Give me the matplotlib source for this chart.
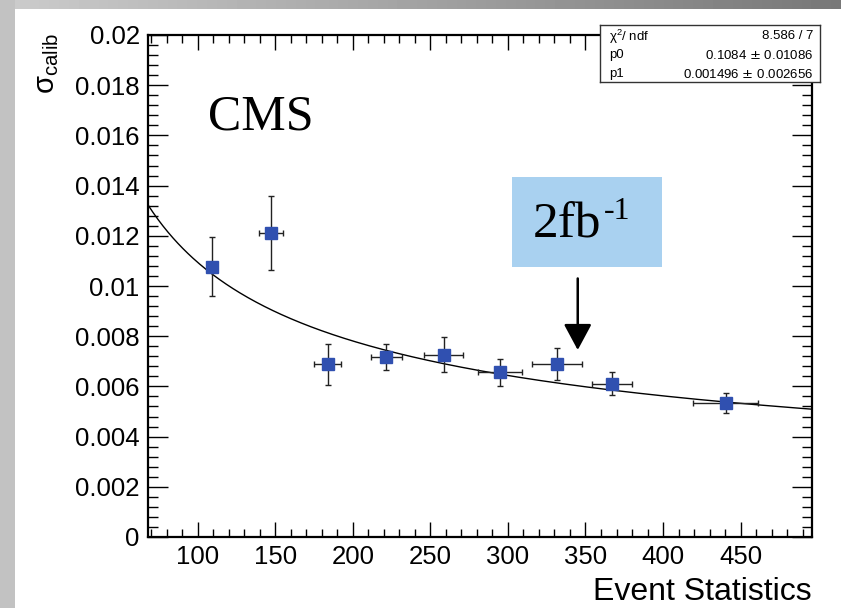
import numpy as np
import matplotlib
matplotlib.use("Agg")
import matplotlib.pyplot as plt
from matplotlib.patches import Rectangle
from matplotlib.ticker import MultipleLocator

# calibration resolution vs. number of events
events = [109.5, 147.4, 183.8, 221.6, 258.5, 295.0, 331.7, 367.0, 440.4]
events_err = [2.5, 7.7, 8.8, 10.0, 12.7, 14.0, 16.0, 13.0, 21.0]
sigma = [0.01077, 0.0121, 0.00688, 0.00716, 0.00726, 0.00657, 0.00689, 0.0061, 0.00534]
sigma_err = [0.00118, 0.00147, 0.00082, 0.00051, 0.0007, 0.00054, 0.00064, 0.00046, 0.0004]

# fit results: sigma = sqrt(p0^2/N + p1^2)
p0, p0_err = 0.1084, 0.01086
p1, p1_err = 0.001496, 0.002656
chi2, ndf = 8.586, 7

W, H = 841, 608

def fx(x):
    return x / W

def fy(y):
    return 1 - y / H

plt.rcParams['font.family'] = ['Liberation Sans', 'DejaVu Sans']

fig = plt.figure(figsize=(W / 100, H / 100), dpi=100, facecolor='white')

# grey frame around the canvas
fig.patches.append(Rectangle((0, 0), fx(15), 1, transform=fig.transFigure,
                             facecolor='#c2c2c2', edgecolor='none', zorder=0))
band = fig.add_axes([0, fy(9), 1, 9 / H], zorder=0)
grad = np.linspace(0.80, 0.47, 256)[None, :]
band.imshow(grad, aspect='auto', cmap='gray', vmin=0, vmax=1, extent=[0, 1, 0, 1])
band.axis('off')

ax = fig.add_axes([fx(148), fy(537), fx(812) - fx(148), fy(35) - fy(537)], zorder=2)
ax.set_xlim(68, 496)
ax.set_ylim(0, 0.02)

xs = np.linspace(68, 496, 400)
ax.plot(xs, np.sqrt(p0**2 / xs + p1**2), color='black', lw=1.0, zorder=2)

ax.errorbar(events, sigma, xerr=events_err, yerr=sigma_err, fmt='none',
            ecolor='#222222', elinewidth=1.0, capsize=2.2, capthick=1.0, zorder=3)
ax.plot(events, sigma, 's', color='#3050b0', markersize=8.5, zorder=4)

ax.xaxis.set_major_locator(MultipleLocator(50))
ax.xaxis.set_minor_locator(MultipleLocator(10))
ax.yaxis.set_major_locator(MultipleLocator(0.002))
ax.yaxis.set_minor_locator(MultipleLocator(0.0004))
ax.tick_params(axis='both', which='both', direction='in', top=True, right=True,
               color='black', width=1.0, labelsize=18.5)
ax.tick_params(axis='x', which='major', length=11, pad=6)
ax.tick_params(axis='x', which='minor', length=6)
ax.tick_params(axis='y', which='major', length=14.5, pad=6)
ax.tick_params(axis='y', which='minor', length=7)
ax.set_xticks([100, 150, 200, 250, 300, 350, 400, 450])
ax.set_yticks(np.arange(0, 0.0201, 0.002))
ax.set_yticklabels(['0', '0.002', '0.004', '0.006', '0.008', '0.01', '0.012',
                    '0.014', '0.016', '0.018', '0.02'])
for s in ax.spines.values():
    s.set_linewidth(1.6)

# axis titles
fig.text(fx(812), fy(600), 'Event Statistics', ha='right', va='baseline', fontsize=23)
fig.text(fx(47), fy(33), r'$\mathregular{\sigma_{calib}}$', rotation=90,
         ha='center', va='top', fontsize=21)

ax.text(fx(208), fy(130), 'CMS', transform=fig.transFigure, family='Liberation Serif',
        fontsize=36, ha='left', va='baseline')

# luminosity marker
fig.patches.append(Rectangle((fx(512), fy(267)), fx(662) - fx(512), fy(177) - fy(267),
                             transform=fig.transFigure, facecolor='#a9d1f0',
                             edgecolor='none', zorder=3))
fig.text(fx(533), fy(237), '2fb', family='Liberation Serif', fontsize=37,
         ha='left', va='baseline', zorder=4)
fig.text(fx(604), fy(219), '-1', family='Liberation Serif', fontsize=23,
         ha='left', va='baseline', zorder=4)
ax.annotate('', xy=(345, 0.00745), xytext=(345, 0.0103),
            arrowprops=dict(arrowstyle='-|>,head_width=0.43,head_length=0.8',
                            mutation_scale=20, color='black', lw=1.8,
                            shrinkA=0, shrinkB=0), zorder=5)

# fit statistics box
box = fig.add_axes([fx(600), fy(82), fx(820) - fx(600), fy(25) - fy(82)], zorder=6)
box.set_xticks([])
box.set_yticks([])
box.set_facecolor('white')
for s in box.spines.values():
    s.set_linewidth(1.0)
    s.set_color('#333333')
rows = [(r'$\mathregular{\chi^2}$/ ndf', f'{chi2} / {ndf}'),
        ('p0', f'{p0} $\\pm$ {p0_err}'),
        ('p1', f'{p1} $\\pm$ {p1_err}')]
for i, (k, v) in enumerate(rows):
    yy = 0.80 - i * 0.33
    box.text(0.04, yy, k, transform=box.transAxes, fontsize=9.5, va='center', ha='left')
    box.text(0.97, yy, v, transform=box.transAxes, fontsize=9.5, va='center', ha='right')

fig.savefig('out.png', dpi=100, facecolor='white')
